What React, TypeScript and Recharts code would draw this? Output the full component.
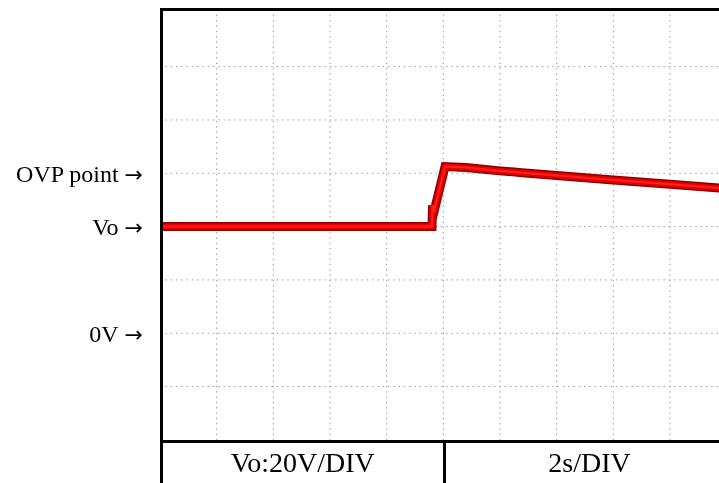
import React from 'react';
import { LineChart, Line, XAxis, YAxis, CartesianGrid } from 'recharts';

// time in seconds (2s/DIV), voltage in volts (20V/DIV)
const times = [0, 9.6, 9.62, 9.68, 10.06, 10.8, 12, 14, 16, 18, 19.8];
const volts = [40, 40, 48, 46, 62.5, 62.2, 60.9, 59.2, 57.5, 55.9, 54.4];

const gridTimes = [2, 4, 6, 8, 10, 12, 14, 16, 18];
const gridVolts = [-20, 0, 20, 40, 60, 80, 100];

const markerVolts = [0, 40, 60];
const markerLabels: Record<number, string> = {
  0: '0V',
  40: 'Vo',
  60: 'OVP point',
};

const scaleLabels = ['Vo:20V/DIV', '2s/DIV'];

const rows = times.map((t, i) => ({ t, edge: volts[i], body: volts[i], core: volts[i] }));

const serif = '"Liberation Serif", "Times New Roman", serif';

function MarkerTick(props: any) {
  const { y, payload } = props;
  return (
    <text x={135} y={y} dy="0.355em" textAnchor="end" fill="#000" fontSize={24} fontFamily={serif}>
      <tspan>{markerLabels[payload.value]}</tspan>
      <tspan dx={6} fontFamily='"DejaVu Sans", sans-serif' fontSize={22}>→</tspan>
    </text>
  );
}

export default function App() {
  return (
    <div style={{ position: 'fixed', left: 8, top: 8, width: 711, height: 475, overflow: 'hidden', fontFamily: serif }}>
      <LineChart width={711} height={475} data={rows} margin={{ top: 1.5, right: 0, bottom: 41.5, left: 0 }}>
        <CartesianGrid
          horizontalValues={gridVolts}
          verticalValues={gridTimes}
          stroke="#9a9a9a"
          strokeDasharray="1.5 3.8"
        />
        <XAxis dataKey="t" type="number" domain={[0, 19.73]} hide allowDataOverflow />
        <YAxis
          type="number"
          width={152}
          domain={[-40.6, 121.43]}
          ticks={markerVolts}
          allowDataOverflow
          axisLine={false}
          tickLine={false}
          tickSize={0}
          tick={<MarkerTick />}
        />
        <Line dataKey="edge" type="linear" stroke="#8a0000" strokeWidth={9} dot={false} isAnimationActive={false} />
        <Line dataKey="body" type="linear" stroke="#e80000" strokeWidth={6} dot={false} isAnimationActive={false} />
        <Line dataKey="core" type="linear" stroke="#ff2020" strokeWidth={2} dot={false} isAnimationActive={false} />
      </LineChart>

      {/* frame */}
      <div style={{ position: 'absolute', left: 152, top: 0, width: 3, height: 475, background: '#000' }} />
      <div style={{ position: 'absolute', left: 152, top: 0, width: 559, height: 3, background: '#000' }} />
      <div style={{ position: 'absolute', left: 152, top: 432, width: 559, height: 3, background: '#000' }} />
      <div style={{ position: 'absolute', left: 434.5, top: 432, width: 3, height: 43, background: '#000' }} />

      {/* scale row */}
      <div
        style={{
          position: 'absolute', left: 155, top: 435, width: 279.5, height: 40,
          display: 'flex', alignItems: 'center', justifyContent: 'center', fontSize: 28, color: '#000',
        }}
      >
        {scaleLabels[0]}
      </div>
      <div
        style={{
          position: 'absolute', left: 437.5, top: 435, width: 288, height: 40,
          display: 'flex', alignItems: 'center', justifyContent: 'center', fontSize: 28, color: '#000',
        }}
      >
        {scaleLabels[1]}
      </div>
    </div>
  );
}
